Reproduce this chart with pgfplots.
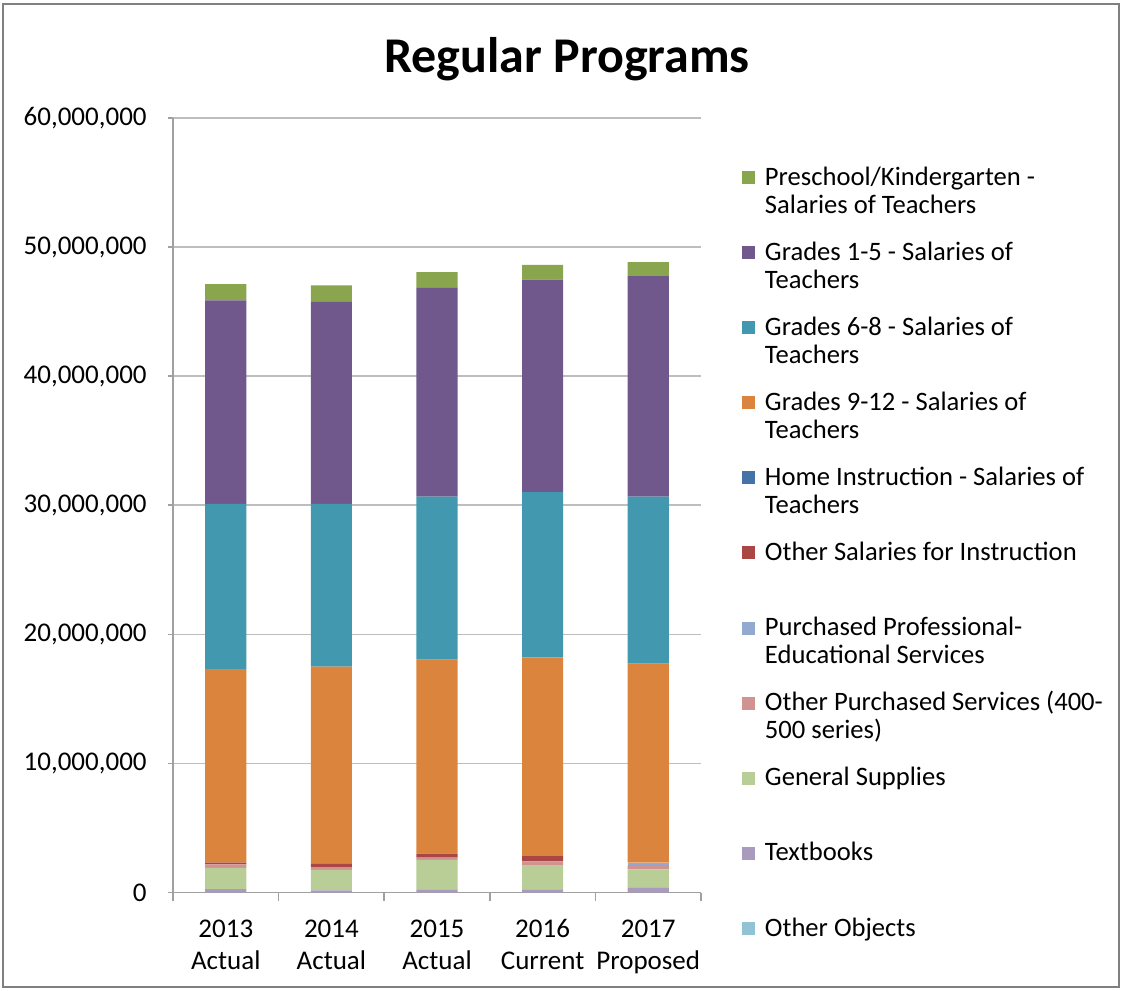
\documentclass[border=0pt]{standalone}
\usepackage{fontspec}
\setmainfont{Carlito}
\usepackage{pgfplots}
\usepackage{pgfplotstable}
\pgfplotsset{compat=1.18}
\definecolor{cPreK}{RGB}{137,165,78}
\definecolor{cG15}{RGB}{112,88,140}
\definecolor{cG68}{RGB}{65,152,175}
\definecolor{cG912}{RGB}{219,132,61}
\definecolor{cHome}{RGB}{69,114,167}
\definecolor{cOthSal}{RGB}{170,70,67}
\definecolor{cProf}{RGB}{147,169,207}
\definecolor{cOthPur}{RGB}{209,147,146}
\definecolor{cSupp}{RGB}{185,205,150}
\definecolor{cText}{RGB}{169,155,189}
\definecolor{cObj}{RGB}{146,195,212}
\definecolor{cGrid}{RGB}{190,190,190}
\definecolor{cAxis}{RGB}{160,160,160}

\pgfplotstableread{
x objects textbooks supplies otherpurch profserv othersal home g912 g68 g15 prek
0 0 260000 1650000 270000 0 130000 0 15000000 12800000 15760000 1260000
1 0 160000 1600000 200000 0 250000 0 15290000 12610000 15650000 1270000
2 0 210000 2320000 180000 0 310000 0 15020000 12620000 16220000 1180000
3 0 210000 1920000 290000 0 390000 0 15410000 12800000 16450000 1160000
4 0 360000 1430000 340000 180000 0 0 15420000 12930000 17090000 1090000
}\datatable

\newcommand\legtxt[2]{\parbox[t]{200pt}{\strut #1\\\strut #2}}
\pgfplotsset{mybar/.style={fill=#1, draw=none,
  legend image code/.code={\fill[##1] (0pt,7.325pt) rectangle (6.5pt,13.825pt);}}}

\begin{document}
\begin{tikzpicture}[x=1pt,y=1pt]
\useasboundingbox (0,0) rectangle (561,-495);
\draw[line width=1pt, gray] (1.5,-2) rectangle (559.5,-493.5);
\node[anchor=base, font=\fontsize{25}{30}\selectfont\bfseries] at (283.5,-36.5) {Regular Programs};
\begin{axis}[
  at={(86.5pt,-446.25pt)}, anchor=south west,
  scale only axis, width=264pt, height=387.25pt,
  ybar stacked, bar width=0.39,
  xmin=-0.5, xmax=4.5, ymin=0, ymax=60000000,
  enlarge x limits=false,
  scaled y ticks=false,
  axis lines*=left,
  axis line style={cAxis, line width=0.8pt},
  xtick={0,1,2,3,4},
  xticklabels={{2013\\Actual},{2014\\Actual},{2015\\Actual},{2016\\Current},{2017\\Proposed}},
  minor xtick={-0.5,0.5,1.5,2.5,3.5,4.5},
  major x tick style={draw=none},
  minor x tick style={cAxis, line width=0.8pt},
  minor tick length=4pt,
  major tick length=2.5pt,
  tick align=outside,
  ytick={0,10000000,20000000,30000000,40000000,50000000,60000000},
  yticklabels={0,{10,000,000},{20,000,000},{30,000,000},{40,000,000},{50,000,000},{60,000,000}},
  y tick style={cAxis, line width=0.8pt},
  ymajorgrids, grid style={cGrid, line width=0.8pt},
  tick label style={font=\fontsize{13.5}{16}\selectfont},
  yticklabel style={inner sep=0pt, xshift=-10.5pt},
  xticklabel style={align=center, inner sep=0pt, yshift=-10.75pt, text height=25.2pt, text depth=3pt},
  reverse legend,
  legend cell align=left,
  legend style={at={(1.0776,0.9444)}, anchor=north west, draw=none, fill=none,
    inner sep=0pt, outer sep=0pt, row sep=0pt, column sep=5pt,
    nodes={inner sep=0pt, outer sep=0pt, text height=12pt, text depth=25.55pt},
    font=\fontsize{13.3}{14}\selectfont},
]
\addplot[mybar=cObj] table[x=x, y=objects] {\datatable};
\addlegendentry{\legtxt{Other Objects}{}}
\addplot[mybar=cText] table[x=x, y=textbooks] {\datatable};
\addlegendentry{\legtxt{Textbooks}{}}
\addplot[mybar=cSupp] table[x=x, y=supplies] {\datatable};
\addlegendentry{\legtxt{General Supplies}{}}
\addplot[mybar=cOthPur] table[x=x, y=otherpurch] {\datatable};
\addlegendentry{\legtxt{Other Purchased Services (400-}{500 series)}}
\addplot[mybar=cProf] table[x=x, y=profserv] {\datatable};
\addlegendentry{\legtxt{Purchased Professional-}{Educational Services}}
\addplot[mybar=cOthSal] table[x=x, y=othersal] {\datatable};
\addlegendentry{\legtxt{Other Salaries for Instruction}{}}
\addplot[mybar=cHome] table[x=x, y=home] {\datatable};
\addlegendentry{\legtxt{Home Instruction - Salaries of}{Teachers}}
\addplot[mybar=cG912] table[x=x, y=g912] {\datatable};
\addlegendentry{\legtxt{Grades 9-12 - Salaries of}{Teachers}}
\addplot[mybar=cG68] table[x=x, y=g68] {\datatable};
\addlegendentry{\legtxt{Grades 6-8 - Salaries of}{Teachers}}
\addplot[mybar=cG15] table[x=x, y=g15] {\datatable};
\addlegendentry{\legtxt{Grades 1-5 - Salaries of}{Teachers}}
\addplot[mybar=cPreK] table[x=x, y=prek] {\datatable};
\addlegendentry{\legtxt{Preschool/Kindergarten -}{Salaries of Teachers}}
\end{axis}
\end{tikzpicture}
\end{document}
